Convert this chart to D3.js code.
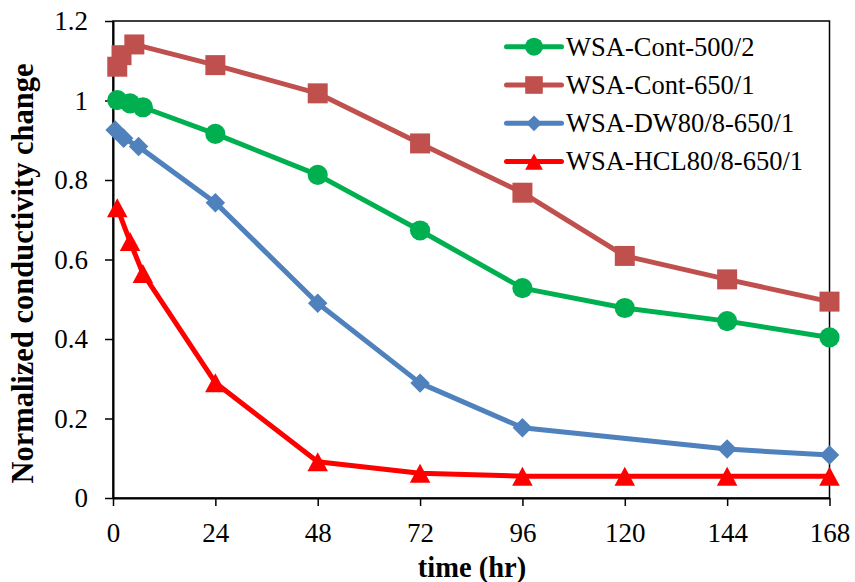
<!DOCTYPE html>
<html>
<head>
<meta charset="utf-8">
<script src="https://cdn.jsdelivr.net/npm/d3@7"></script>
<style>
  html, body { margin: 0; padding: 0; background: #fff; }
  svg { display: block; }
</style>
</head>
<body>
<svg id="chart" width="855" height="582"></svg>
<script>
// Time ticks (hours) and conductivity axis ticks
const xTicks = [0, 24, 48, 72, 96, 120, 144, 168];
const yTicks = [0, 0.2, 0.4, 0.6, 0.8, 1.0, 1.2];

// Series: sampling times (hr) and normalized conductivity
const contA_t = [1, 4, 7, 24, 48, 72, 96, 120, 144, 168];
const contA_v = [1.001, 0.993, 0.983, 0.916, 0.813, 0.673, 0.528, 0.478, 0.445, 0.404];

const contB_t = [1, 2, 5, 24, 48, 72, 96, 120, 144, 168];
const contB_v = [1.085, 1.114, 1.141, 1.089, 1.018, 0.892, 0.768, 0.609, 0.550, 0.494];

const dw_t = [0.5, 2.5, 6, 24, 48, 72, 96, 144, 168];
const dw_v = [0.926, 0.905, 0.884, 0.743, 0.490, 0.289, 0.177, 0.123, 0.108];

const hcl_t = [1, 4, 7, 24, 48, 72, 96, 120, 144, 168];
const hcl_v = [0.730, 0.645, 0.565, 0.290, 0.091, 0.062, 0.055, 0.055, 0.055, 0.055];

const seriesNames = ["WSA-Cont-500/2", "WSA-Cont-650/1", "WSA-DW80/8-650/1", "WSA-HCL80/8-650/1"];
const seriesColors = ["#00B050", "#C0504D", "#4F81BD", "#FF0000"];

const SERIF = "'Liberation Serif', 'Times New Roman', Tinos, 'DejaVu Serif', serif";

// A diamond is a square turned by 45 degrees
const diamond = {
  draw(ctx, size) {
    const r = Math.sqrt(size / 2);
    ctx.moveTo(0, -r); ctx.lineTo(r, 0); ctx.lineTo(0, r); ctx.lineTo(-r, 0); ctx.closePath();
  }
};
// Upward triangle centred on its bounding box; size = height squared
const triangle = {
  draw(ctx, size) {
    const h = Math.sqrt(size), w = h * 1.08;
    ctx.moveTo(0, -h / 2); ctx.lineTo(w / 2, h / 2); ctx.lineTo(-w / 2, h / 2); ctx.closePath();
  }
};
const seriesSymbols = [d3.symbolCircle, d3.symbolSquare, diamond, triangle];

const series = [
  { name: seriesNames[0], color: seriesColors[0], symbol: seriesSymbols[0], size: 320, legendSize: 254,
    pts: contA_t.map((t, i) => [t, contA_v[i]]) },
  { name: seriesNames[1], color: seriesColors[1], symbol: seriesSymbols[1], size: 400, legendSize: 310,
    pts: contB_t.map((t, i) => [t, contB_v[i]]) },
  { name: seriesNames[2], color: seriesColors[2], symbol: seriesSymbols[2], size: 190, legendSize: 125,
    pts: dw_t.map((t, i) => [t, dw_v[i]]) },
  { name: seriesNames[3], color: seriesColors[3], symbol: seriesSymbols[3], size: 361, legendSize: 270,
    pts: hcl_t.map((t, i) => [t, hcl_v[i]]) }
];

const svg = d3.select("#chart");
const plotL = 113, plotR = 829.5, plotT = 21, plotB = 498;

const x = d3.scaleLinear().domain([0, 168]).range([plotL, plotR]);
const y = d3.scaleLinear().domain([0, 1.2]).range([plotB, plotT]);

// Plot frame (top and right edges)
svg.append("rect")
  .attr("x", plotL).attr("y", plotT)
  .attr("width", plotR - plotL).attr("height", plotB - plotT)
  .attr("fill", "none").attr("stroke", "#000").attr("stroke-width", 1.5);

// X axis
const xAxis = svg.append("g")
  .attr("transform", `translate(0,${plotB})`)
  .call(d3.axisBottom(x).tickValues(xTicks).tickSize(8).tickSizeOuter(0).tickPadding(17)
    .tickFormat(d3.format("d")));
xAxis.attr("font-family", SERIF).attr("font-size", 27);
xAxis.select(".domain").attr("stroke-width", 2);
xAxis.selectAll(".tick line").attr("stroke-width", 1.5);

// Y axis
const yAxis = svg.append("g")
  .attr("transform", `translate(${plotL},0)`)
  .call(d3.axisLeft(y).tickValues(yTicks).tickSize(8).tickSizeOuter(0).tickPadding(17)
    .tickFormat(d => d3.format("~g")(d)));
yAxis.attr("font-family", SERIF).attr("font-size", 27);
yAxis.select(".domain").attr("stroke-width", 2);
yAxis.selectAll(".tick line").attr("stroke-width", 1.5);

// Axis titles
svg.append("text")
  .attr("x", 472).attr("y", 577)
  .attr("text-anchor", "middle")
  .attr("font-family", SERIF).attr("font-size", 28.5).attr("font-weight", "bold")
  .text("time (hr)");

svg.append("text")
  .attr("transform", "translate(33,273.5) rotate(-90)")
  .attr("text-anchor", "middle")
  .attr("font-family", SERIF).attr("font-size", 30.5).attr("font-weight", "bold")
  .text("Normalized conductivity change");

// Lines and markers
const line = d3.line().x(d => x(d[0])).y(d => y(d[1]));

series.forEach(s => {
  const g = svg.append("g");
  g.append("path")
    .datum(s.pts)
    .attr("d", line)
    .attr("fill", "none")
    .attr("stroke", s.color)
    .attr("stroke-width", 5)
    .attr("stroke-linejoin", "round")
    .attr("stroke-linecap", "round");
  g.selectAll("path.mk")
    .data(s.pts)
    .join("path")
    .attr("class", "mk")
    .attr("d", d3.symbol().type(s.symbol).size(s.size))
    .attr("transform", d => `translate(${x(d[0])},${y(d[1])})`)
    .attr("fill", s.color);
});

// Legend
const legend = svg.append("g").attr("font-family", SERIF).attr("font-size", 26.5);
const legY0 = 46.7, legStep = 38.3;
series.forEach((s, i) => {
  const cy = legY0 + i * legStep;
  legend.append("line")
    .attr("x1", 506.5).attr("x2", 561.5)
    .attr("y1", cy).attr("y2", cy)
    .attr("stroke", s.color).attr("stroke-width", 5)
    .attr("stroke-linecap", "round");
  legend.append("path")
    .attr("d", d3.symbol().type(s.symbol).size(s.legendSize))
    .attr("transform", `translate(534,${cy})`)
    .attr("fill", s.color);
  legend.append("text")
    .attr("x", 566).attr("y", cy + 8.8)
    .text(s.name);
});
</script>
</body>
</html>
